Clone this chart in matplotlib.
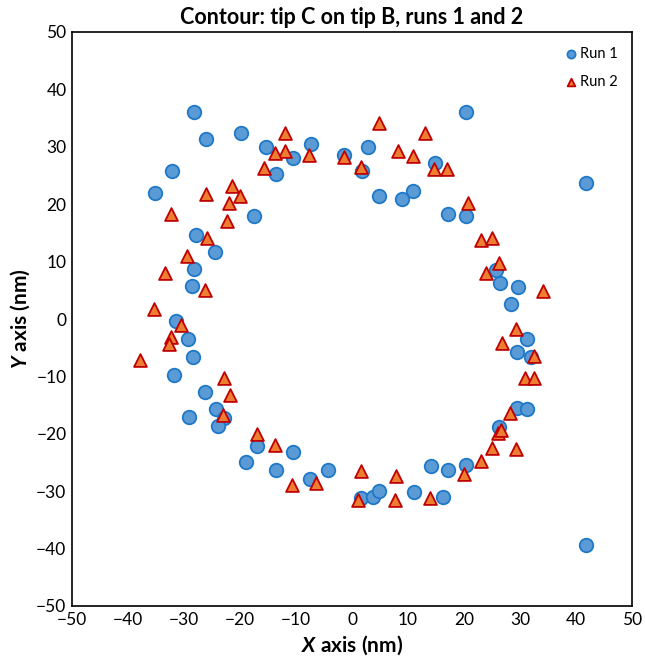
import matplotlib
matplotlib.use("Agg")
import matplotlib.pyplot as plt

plt.rcParams['font.family'] = ['Lato', 'DejaVu Sans']
plt.rcParams['mathtext.fontset'] = 'custom'
plt.rcParams['mathtext.bfit'] = 'Lato:italic:bold'
plt.rcParams['mathtext.bf'] = 'Lato:bold'
plt.rcParams['mathtext.rm'] = 'Lato'

run1_x = [-28.2, -26.1, -19.8, -32.1, -35.2, -17.5, -27.9, -24.5, -28.2, -28.6,
          -31.4, -29.3, -28.4, -31.8, -26.25, -24.3, -22.9, -29.1, -23.9, -17.0,
          -18.9, -10.5, -13.6, -7.5, -4.3, 1.6, 3.75, 4.8, 11.1, 14.1,
          16.25, 17.1, 20.3, 26.2, 29.5, 31.25, 29.5, 32.0, 31.25, 28.4,
          29.6, 26.4, 25.7, 20.4, 17.1, 10.9, 8.9, 4.8, 14.8, 20.4,
          2.9, -1.4, 1.8, -7.3, -10.5, -13.6, -15.4, 41.8, 41.8]
run1_y = [36.1, 31.4, 32.4, 25.8, 22.0, 17.9, 14.6, 11.7, 8.7, 5.7,
          -0.3, -3.5, -6.6, -9.8, -12.7, -15.7, -17.2, -17.1, -18.7, -22.1,
          -24.9, -23.2, -26.3, -27.9, -26.3, -31.2, -31.0, -30.0, -30.1, -25.6,
          -31.0, -26.3, -25.4, -18.8, -15.5, -15.7, -5.7, -6.6, -3.5, 2.6,
          5.6, 6.3, 8.5, 17.9, 18.3, 22.3, 20.9, 21.4, 27.2, 36.1,
          30.0, 28.6, 25.8, 30.5, 28.0, 25.3, 30.0, 23.7, -39.4]

run2_x = [-21.4, -20.0, -22.0, -26.1, -32.3, -22.3, -25.9, -29.5, -33.4, -26.2,
          -35.4, -30.5, -32.3, -32.7, -37.9, -22.9, -21.8, -23.0, -17.0, -13.75,
          -10.7, -6.4, 1.6, 1.1, 7.9, 7.7, 13.9, 20.0, 23.0, 25.0,
          26.0, 26.6, 29.3, 28.2, 30.9, 32.5, 32.5, 26.8, 29.3, 34.1,
          23.9, 26.25, 23.0, 25.0, 20.7, 17.0, 14.6, 13.0, 10.9, 8.2,
          4.8, 1.6, -1.4, -7.7, -12.0, -12.0, -13.75, -15.7]
run2_y = [23.2, 21.4, 20.2, 21.8, 18.3, 17.1, 14.1, 11.0, 8.0, 5.1,
          1.7, -1.0, -3.1, -4.4, -7.1, -10.3, -13.2, -16.7, -20.0, -22.0,
          -28.9, -28.6, -26.5, -31.5, -27.4, -31.5, -31.2, -27.0, -24.7, -22.5,
          -19.9, -19.3, -22.6, -16.4, -10.3, -10.3, -6.4, -4.2, -1.7, 4.9,
          8.0, 9.8, 13.8, 14.1, 20.2, 26.1, 26.1, 32.4, 28.4, 29.3,
          34.1, 26.5, 28.2, 28.6, 32.4, 29.3, 28.9, 26.3]

x_ticks = [-50, -40, -30, -20, -10, 0, 10, 20, 30, 40, 50]
y_ticks = [-50, -40, -30, -20, -10, 0, 10, 20, 30, 40, 50]

fig = plt.figure(figsize=(6.45, 6.68), dpi=100)
ax = fig.add_axes([72/645, 62/668, 560/645, 574/668])

ax.scatter(run1_x, run1_y, s=95, marker='o', facecolor='#5B9BD5',
           edgecolor='#1F78C8', linewidth=1.3, label='Run 1', zorder=3)
ax.scatter(run2_x, run2_y, s=85, marker='^', facecolor='#ED7D31',
           edgecolor='#C00000', linewidth=1.3, label='Run 2', zorder=4)

ax.set_xlim(-50, 50)
ax.set_ylim(-50, 50)
ax.set_xticks(x_ticks)
ax.set_yticks(y_ticks)
ax.tick_params(length=0, labelsize=12.5, pad=4)
for sp in ax.spines.values():
    sp.set_linewidth(1.2)
    sp.set_color('black')

ax.set_title('Contour: tip C on tip B, runs 1 and 2', fontsize=15.5,
             fontweight='bold', pad=6)
ax.set_xlabel(r'$\mathbfit{X}$ axis (nm)', fontsize=15, fontweight='bold', labelpad=4)
ax.set_ylabel(r'$\mathbfit{Y}$ axis (nm)', fontsize=15, fontweight='bold', labelpad=3)

leg = ax.legend(loc='upper right', frameon=False, fontsize=10.5, markerscale=0.6,
                handletextpad=0.1, labelspacing=1.0, borderaxespad=0.6,
                handlelength=1.0)

fig.savefig('out.png', dpi=100)
